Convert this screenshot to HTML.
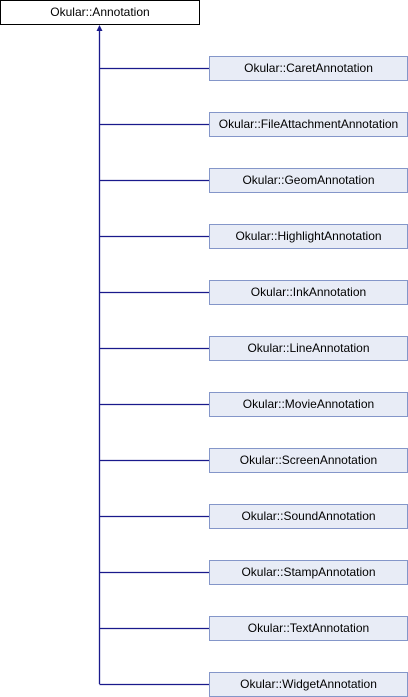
<!DOCTYPE html>
<html><head><style>
body{margin:0;width:408px;height:696px;background:#fff;position:relative;overflow:hidden;font-family:"Liberation Sans",sans-serif;font-size:12px}
.b{position:absolute;box-sizing:border-box;height:25px;line-height:23px;text-align:center;color:#000}
.c{left:209px;width:199px;background:#e8ecf6;border:1px solid #8496c9}
</style></head><body>
<svg width="408" height="696" style="position:absolute;left:0;top:0">
<g stroke="#1a1a8c" stroke-width="1.3" fill="none">
<line x1="99.5" y1="28" x2="99.5" y2="684"/>
<line x1="99.5" y1="68.5" x2="209" y2="68.5"/>
<line x1="99.5" y1="124.5" x2="209" y2="124.5"/>
<line x1="99.5" y1="180.5" x2="209" y2="180.5"/>
<line x1="99.5" y1="236.5" x2="209" y2="236.5"/>
<line x1="99.5" y1="292.5" x2="209" y2="292.5"/>
<line x1="99.5" y1="348.5" x2="209" y2="348.5"/>
<line x1="99.5" y1="404.5" x2="209" y2="404.5"/>
<line x1="99.5" y1="460.5" x2="209" y2="460.5"/>
<line x1="99.5" y1="516.5" x2="209" y2="516.5"/>
<line x1="99.5" y1="572.5" x2="209" y2="572.5"/>
<line x1="99.5" y1="628.5" x2="209" y2="628.5"/>
<line x1="99.5" y1="684.5" x2="209" y2="684.5"/>
</g>
<polygon points="99.5,25 96.5,31 102.5,31" fill="#1a1a8c"/>
</svg>
<div class="b" style="left:0;top:0;width:200px;border:1px solid #000;background:#fff">Okular::Annotation</div>
<div class="b c" style="top:56px">Okular::CaretAnnotation</div>
<div class="b c" style="top:112px">Okular::FileAttachmentAnnotation</div>
<div class="b c" style="top:168px">Okular::GeomAnnotation</div>
<div class="b c" style="top:224px">Okular::HighlightAnnotation</div>
<div class="b c" style="top:280px">Okular::InkAnnotation</div>
<div class="b c" style="top:336px">Okular::LineAnnotation</div>
<div class="b c" style="top:392px">Okular::MovieAnnotation</div>
<div class="b c" style="top:448px">Okular::ScreenAnnotation</div>
<div class="b c" style="top:504px">Okular::SoundAnnotation</div>
<div class="b c" style="top:560px">Okular::StampAnnotation</div>
<div class="b c" style="top:616px">Okular::TextAnnotation</div>
<div class="b c" style="top:672px">Okular::WidgetAnnotation</div>
</body></html>
